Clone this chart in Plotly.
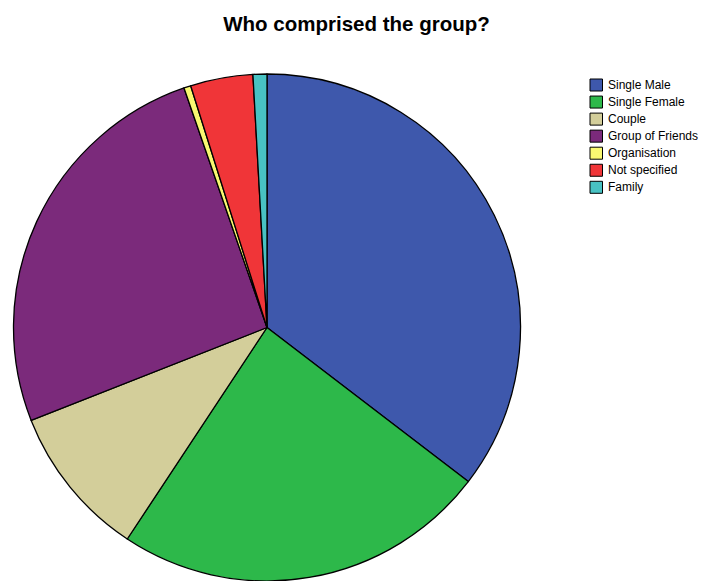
import plotly.graph_objects as go

categories = ["Single Male", "Single Female", "Couple", "Group of Friends",
              "Organisation", "Not specified", "Family"]
counts = [80, 54, 22, 58, 1, 9, 2]
colors = ["#3E58AC", "#2DB84A", "#D3CE9A", "#7B2A7B", "#F9F871", "#F03538", "#48C2C3"]

W, H = 713, 581
ML, MR, MT, MB = 13, 0, 74, 0
PW, PH = W - ML - MR, H - MT - MB

def px_x(x):
    return (x - ML) / PW

def px_y(y):
    return (H - MB - y) / PH

fig = go.Figure(go.Pie(
    labels=categories,
    values=counts,
    sort=False,
    direction="clockwise",
    rotation=0,
    textinfo="none",
    showlegend=False,
    marker=dict(colors=colors, line=dict(color="black", width=1.3)),
    domain=dict(x=[0, 508 / PW], y=[0, 1]),
))

# legend drawn as shapes + annotations
y0 = 85
step = 17.05
for i, (lab, col) in enumerate(zip(categories, colors)):
    cy = y0 + i * step
    fig.add_shape(type="rect", xref="paper", yref="paper",
                  x0=px_x(590), x1=px_x(602.5), y0=px_y(cy + 6), y1=px_y(cy - 6),
                  fillcolor=col, line=dict(color="black", width=1))
    fig.add_annotation(x=px_x(606), y=px_y(cy), xref="paper", yref="paper",
                       text=lab, showarrow=False, xanchor="left", yanchor="middle",
                       font=dict(size=12, color="black"))

fig.update_layout(
    width=W, height=H,
    margin=dict(l=ML, r=MR, t=MT, b=MB, autoexpand=False),
    paper_bgcolor="white", plot_bgcolor="white",
    font=dict(family="Liberation Sans, Arial, sans-serif", color="black"),
    title=dict(text="<b>Who comprised the group?</b>", x=0.5, xref="container",
               y=1 - 24 / H, yref="container", yanchor="middle", xanchor="center",
               font=dict(size=20.5, color="black")),
    showlegend=False,
)

fig.write_html("out.html", config={"displayModeBar": False},
               post_script="document.body.style.margin='0px';")
